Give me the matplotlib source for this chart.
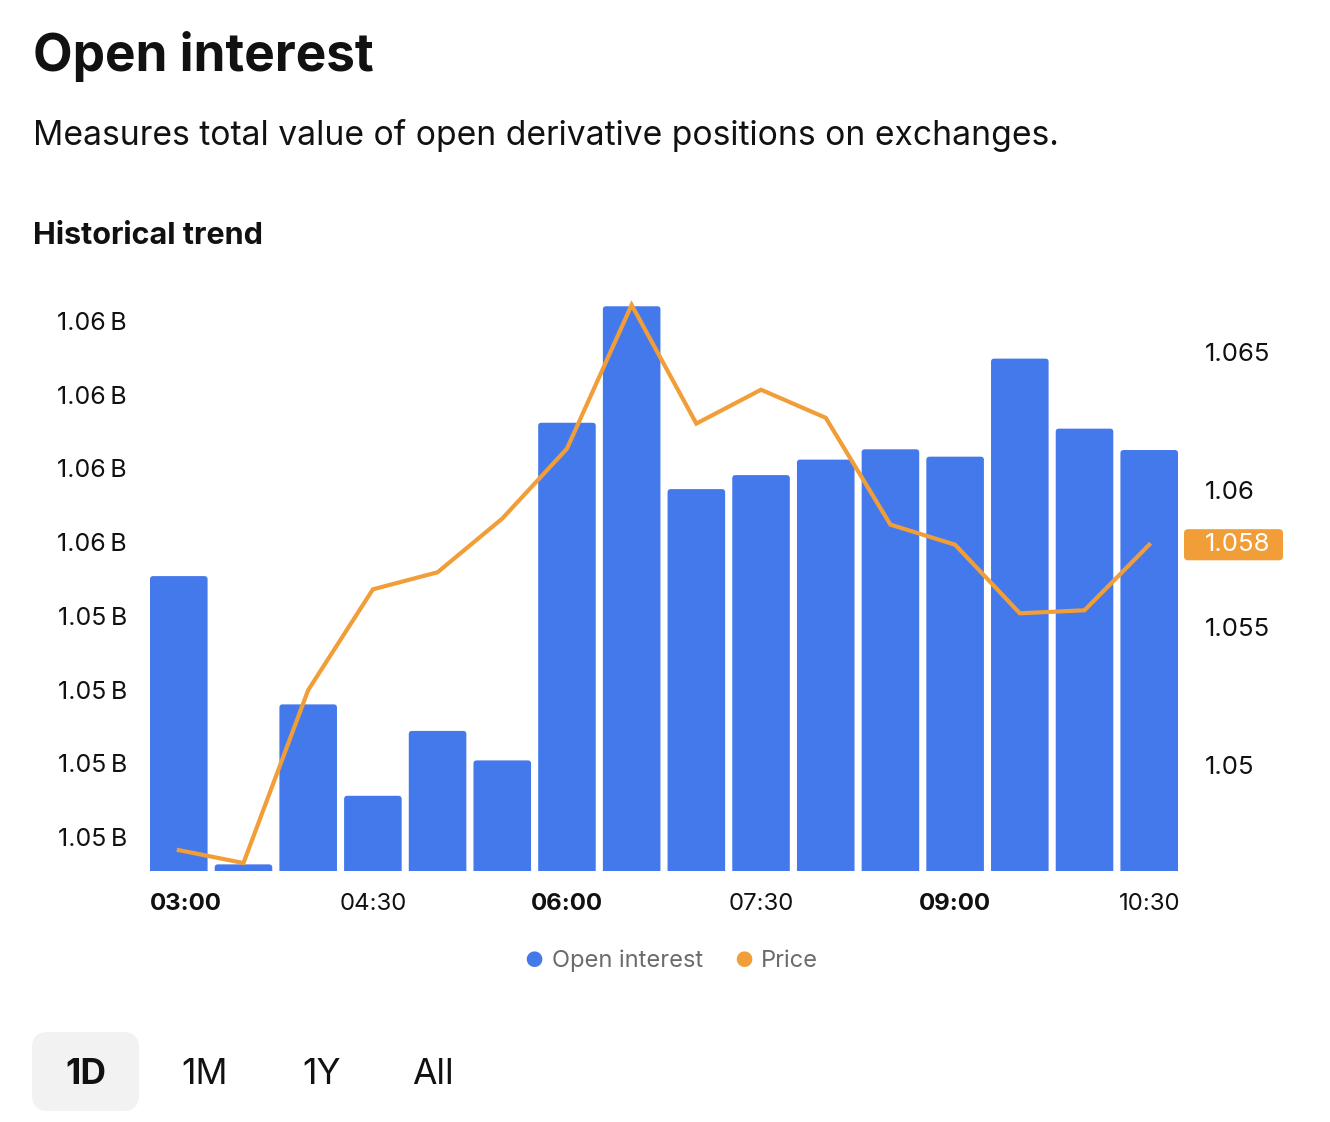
import matplotlib
matplotlib.use("Agg")
import matplotlib.pyplot as plt
import matplotlib.transforms as mtransforms
from matplotlib.patches import FancyBboxPatch
import numpy as np

plt.rcParams['font.family'] = ['Inter', 'DejaVu Sans']

# data
times = ["03:00", "03:30", "04:00", "04:30", "05:00", "05:30", "06:00", "06:30",
         "07:00", "07:30", "08:00", "08:30", "09:00", "09:30", "10:00", "10:30"]
open_interest = [1.05554, 1.05163, 1.05380, 1.05256, 1.05344, 1.05304, 1.05762, 1.05920,
                 1.05672, 1.05691, 1.05712, 1.05726, 1.05716, 1.05849, 1.05754, 1.05725]
price = [1.04691, 1.04644, 1.05272, 1.05638, 1.05700, 1.05895, 1.06149, 1.06671,
         1.06240, 1.06363, 1.06261, 1.05873, 1.05800, 1.05551, 1.05562, 1.05800]
oi_ticks = [1.052, 1.053, 1.054, 1.055, 1.056, 1.057, 1.058, 1.059]
price_ticks = [1.05, 1.055, 1.06, 1.065]
price_tick_labels = ["1.05", "1.055", "1.06", "1.065"]
xtick_labels = ["03:00", "04:30", "06:00", "07:30", "09:00", "10:30"]
xtick_bold = ["03:00", "06:00", "09:00"]
ranges = ["1D", "1M", "1Y", "All"]

BLUE = "#4479EC"
ORANGE = "#F19E38"
TXT = "#111111"
GRAY = "#6B6B6B"

W, H = 1330, 1122
fig = plt.figure(figsize=(W / 100, H / 100), dpi=100)

def fx(x):
    return x / W

def fy(y):
    return 1 - y / H

ax = fig.add_axes([fx(150), fy(871), 1028 / W, 571 / H])
x = np.arange(len(times))
ax.set_xlim(-0.445, len(times) - 1 + 0.445)
ax.set_ylim(1.05154, 1.059285)
bw = 0.89
ybase = ax.get_ylim()[0]
# bars with slightly rounded tops (bottom corners hidden below the axis)
for xi, v in zip(x, open_interest):
    r = FancyBboxPatch((xi - bw / 2, ybase - 0.0001), bw, v - ybase + 0.0001,
                       boxstyle='round,pad=0,rounding_size=0.05',
                       mutation_aspect=(0.0001 / 7.4) / (0.05 / 3.2),
                       fc=BLUE, ec='none', zorder=2, clip_on=True)
    ax.add_patch(r)
ax.set_yticks(oi_ticks)
ax.set_yticklabels(["%.2f\u2009B" % v for v in oi_ticks])
ax.tick_params(axis='y', length=0, pad=16.5, labelsize=18, labelcolor=TXT)

xt = [ax.get_xlim()[0] if t == times[0] else times.index(t) for t in xtick_labels]
ax.set_xticks(xt)
ax.set_xticklabels(xtick_labels)
ax.tick_params(axis='x', length=0, pad=16, labelsize=17.3, labelcolor=TXT)
for lab in ax.get_xticklabels():
    if lab.get_text() in xtick_bold:
        lab.set_fontweight('bold')
    if lab.get_text() == times[0]:
        lab.set_horizontalalignment('left')
for s in ax.spines.values():
    s.set_visible(False)

ax2 = ax.twinx()
ax2.plot(x, price, color=ORANGE, lw=3, zorder=3, solid_joinstyle='miter')
ax2.set_ylim(1.046151, 1.066888)
ax2.set_yticks(price_ticks)
ax2.set_yticklabels(price_tick_labels)
ax2.tick_params(axis='y', length=0, pad=19.5, labelsize=18.5, labelcolor=TXT)
for s in ax2.spines.values():
    s.set_visible(False)

# last price badge
blend = mtransforms.blended_transform_factory(fig.transFigure, ax2.transData)
box_h = 0.00113
badge = FancyBboxPatch((fx(1184), price[-1] - box_h / 2), 99 / W, box_h,
                       boxstyle='round,pad=0,rounding_size=0.003',
                       mutation_aspect=(box_h / 31) / (1 / W),
                       transform=blend, fc=ORANGE, ec='none', clip_on=False)
fig.patches.append(badge)
fig.text(fx(1205), price[-1], "%.3f" % price[-1], transform=blend, ha='left', va='center',
         fontsize=18.5, color='white')

# header texts
fig.text(fx(33), fy(57), "Open interest", fontsize=37, fontweight='bold', color=TXT, va='center')
fig.text(fx(33), fy(135), "Measures total value of open derivative positions on exchanges.",
         fontsize=24.2, color=TXT, va='center')
fig.text(fx(33), fy(236), "Historical trend", fontsize=22, fontweight='bold', color=TXT, va='center')

# legend
fig.text(fx(534), fy(961), "\u25CF", fontsize=15, color=BLUE, ha='center', va='center')
fig.text(fx(552), fy(961), "Open interest", fontsize=17, color=GRAY, va='center')
fig.text(fx(744), fy(961), "\u25CF", fontsize=15, color=ORANGE, ha='center', va='center')
fig.text(fx(761), fy(961), "Price", fontsize=17, color=GRAY, va='center')

# range buttons
btn = FancyBboxPatch((fx(32), fy(1111)), 107 / W, 79 / H,
                     boxstyle='round,pad=0,rounding_size=0.012',
                     transform=fig.transFigure, fc="#F2F2F2", ec='none',
                     mutation_aspect=W / H)
fig.patches.append(btn)
for i, r in enumerate(ranges):
    fig.text(fx([86, 205, 322, 433][i]), fy(1074), r, fontsize=25.5, color=TXT,
             ha='center', va='center', fontweight='bold' if i == 0 else 'normal')

fig.savefig("out.png", dpi=100)
